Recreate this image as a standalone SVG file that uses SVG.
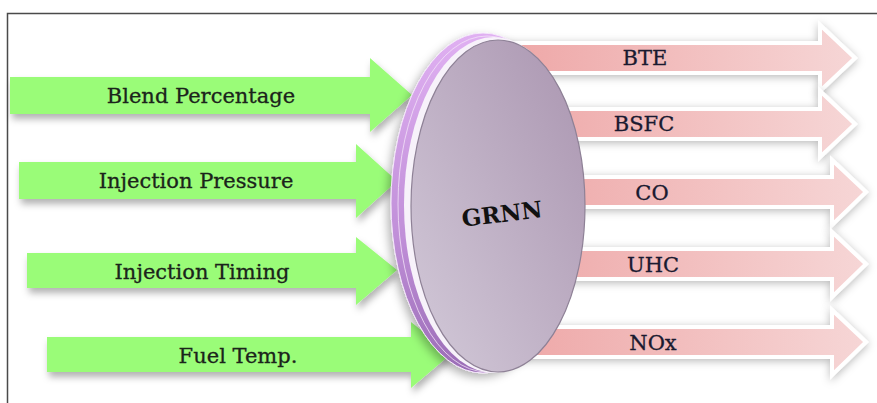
<svg xmlns="http://www.w3.org/2000/svg" width="877" height="403" viewBox="0 0 877 403">
  <defs>
    <filter id="sh" x="-10%" y="-30%" width="120%" height="170%">
      <feDropShadow dx="2" dy="5" stdDeviation="3.5" flood-color="#000" flood-opacity="0.3"/>
    </filter>
    <filter id="shp" x="-10%" y="-40%" width="120%" height="180%">
      <feDropShadow dx="0" dy="2" stdDeviation="4" flood-color="#000" flood-opacity="0.28"/>
    </filter>
    <filter id="shd" x="-30%" y="-10%" width="160%" height="125%">
      <feDropShadow dx="-3" dy="4" stdDeviation="5" flood-color="#000" flood-opacity="0.3"/>
    </filter>
    <linearGradient id="pink" x1="0" y1="0" x2="1" y2="0">
      <stop offset="0" stop-color="#eea6a6"/>
      <stop offset="1" stop-color="#f6d6d6"/>
    </linearGradient>
    <linearGradient id="face" x1="1" y1="0" x2="0" y2="1">
      <stop offset="0" stop-color="#aa95b0"/>
      <stop offset="1" stop-color="#d3cad9"/>
    </linearGradient>
    <linearGradient id="rim" x1="0" y1="0" x2="0" y2="1">
      <stop offset="0" stop-color="#e0b0f2"/>
      <stop offset="0.6" stop-color="#c08fd8"/>
      <stop offset="1" stop-color="#9a6cb6"/>
    </linearGradient>
    <style>
      .in { fill: #9afc78; filter: url(#sh); }
      .out { fill: url(#pink); stroke: #ffffff; stroke-width: 4; stroke-linejoin: miter; filter: url(#shp); }
      .lbl { font-family: "DejaVu Serif", "Liberation Serif", serif; font-size: 21px; text-anchor: middle; stroke-width: 0.3; }
      .lg { fill: #1b241b; stroke: #1b241b; }
      .lp { fill: #1a1a30; stroke: #1a1a30; }
    </style>
  </defs>

  <rect width="877" height="403" fill="#ffffff"/>
  <path d="M7.5,403 V13.5 H877" fill="none" stroke="#4a4a4a" stroke-width="1.5"/>

  <g id="connectors">
    <g id="out-bte">
      <polygon class="out" points="500,43 820,43 820,25 855,58 820,91 820,73 500,73"/>
      <text class="lbl lp" x="645" y="65">BTE</text>
    </g>
    <g id="out-bsfc">
      <polygon class="out" points="500,109 820,109 820,91 855,124 820,157 820,139 500,139"/>
      <text class="lbl lp" x="644" y="131">BSFC</text>
    </g>
    <g id="out-co">
      <polygon class="out" points="500,177 832,177 832,160 866,192 832,225 832,207 500,207"/>
      <text class="lbl lp" x="652" y="200">CO</text>
    </g>
    <g id="out-uhc">
      <polygon class="out" points="500,249 832,249 832,232 866,264 832,297 832,279 500,279"/>
      <text class="lbl lp" x="653" y="272">UHC</text>
    </g>
    <g id="out-nox">
      <polygon class="out" points="500,327 832,327 832,310 866,342 832,375 832,357 500,357"/>
      <text class="lbl lp" x="653" y="350">NOx</text>
    </g>

    <g id="in-blend">
      <polygon class="in" points="10,77 370,77 370,58 412,95 370,132 370,114 10,114"/>
      <text class="lbl lg" x="201" y="103">Blend Percentage</text>
    </g>
    <g id="in-pressure">
      <polygon class="in" points="19,162 356,162 356,144 397,181 356,218 356,199 19,199"/>
      <text class="lbl lg" x="196" y="188">Injection Pressure</text>
    </g>
    <g id="in-timing">
      <polygon class="in" points="27,253 356,253 356,237 397,270 356,305 356,288 27,288"/>
      <text class="lbl lg" x="202" y="279">Injection Timing</text>
    </g>
    <g id="in-temp">
      <polygon class="in" points="47,337 411,337 411,322 451,354 411,388 411,372 47,372"/>
      <text class="lbl lg" x="238" y="363">Fuel Temp.</text>
    </g>
  </g>

  <g id="grnn">
    <g filter="url(#shd)">
      <ellipse cx="483" cy="203" rx="92" ry="170" fill="url(#rim)" stroke="#f4e6fa" stroke-width="1"/>
    </g>
    <ellipse cx="487" cy="204" rx="89" ry="168" fill="none" stroke="#f2e2f8" stroke-width="0.8"/>
    <ellipse cx="494" cy="205" rx="90" ry="168" fill="#f7f2fa"/>
    <ellipse cx="498" cy="206" rx="87" ry="166" fill="url(#face)" stroke="#8e8196" stroke-width="1.2"/>
    <text x="502" y="222" transform="rotate(-7 502 214)" font-family="'DejaVu Serif', 'Liberation Serif', serif" font-size="23" font-weight="bold" text-anchor="middle" fill="#111111">GRNN</text>
  </g>
</svg>
